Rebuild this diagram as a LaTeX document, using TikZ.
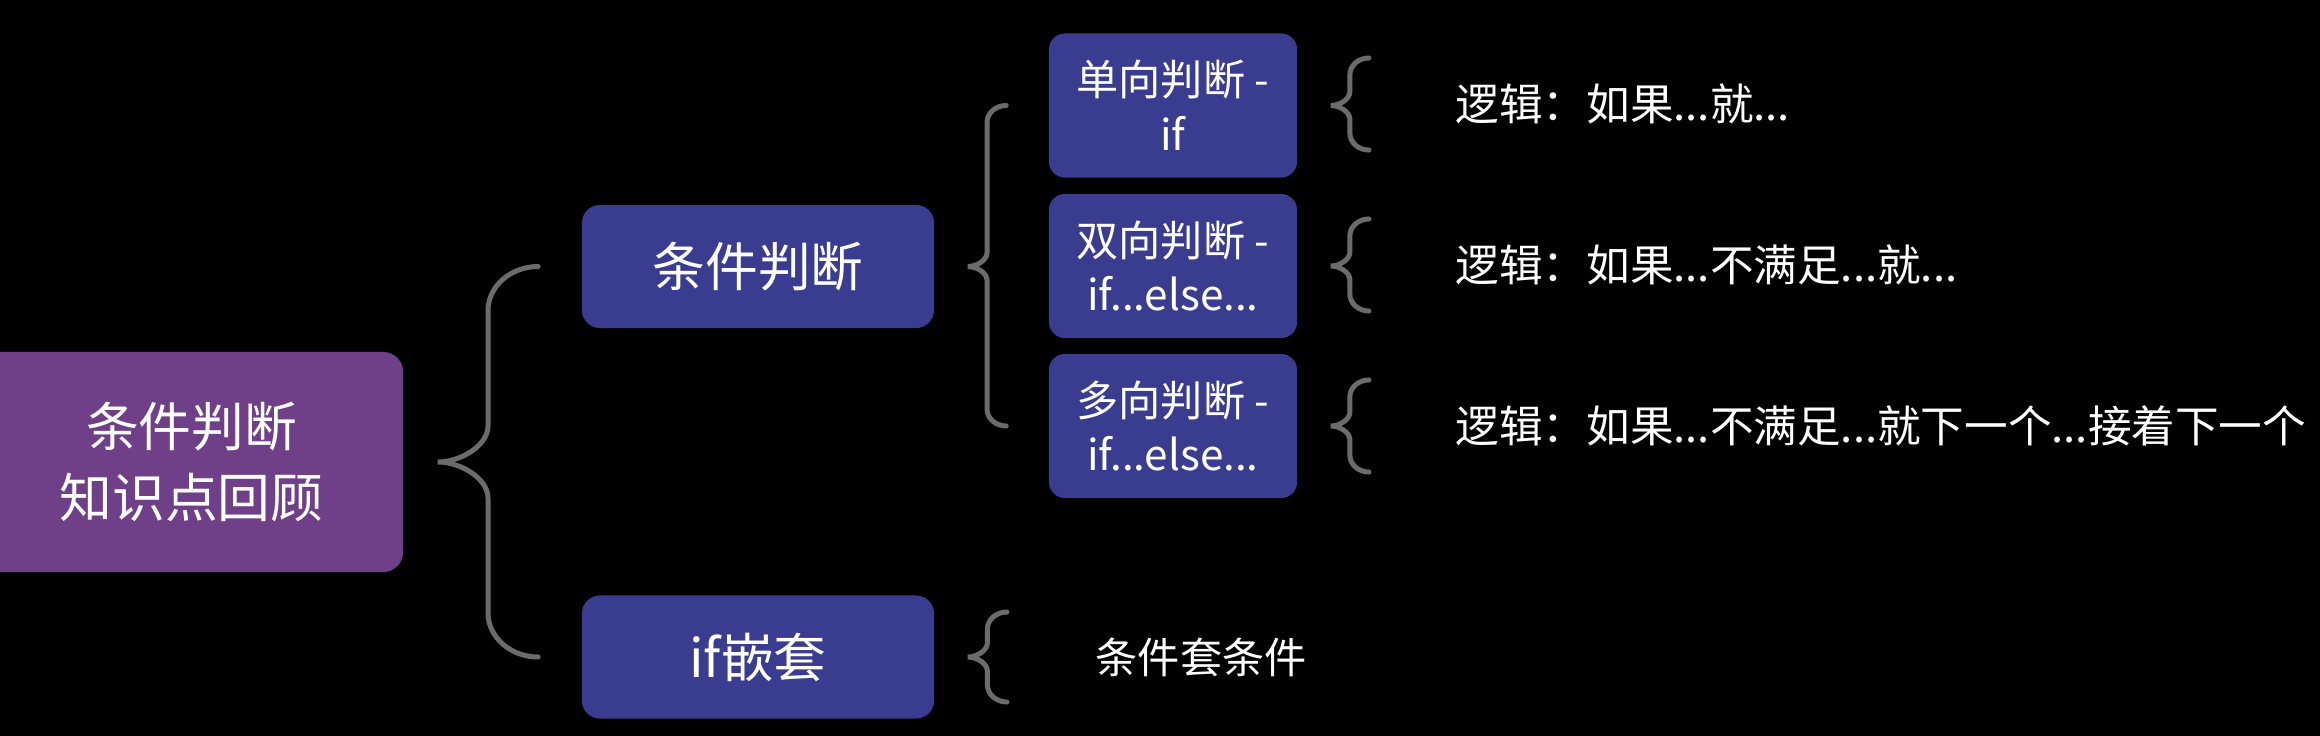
\documentclass[tikz,border=0pt]{standalone}
\usepackage{fontspec}
\setmainfont{Noto Sans CJK SC}
\usetikzlibrary{calc}

\definecolor{rootpurple}{HTML}{6F4088}
\definecolor{boxblue}{HTML}{3A3D8F}
\definecolor{curlgray}{HTML}{6B6B6B}

% curly brace: tip, top end, bottom end
\newcommand{\curly}[3]{%
  \draw[curl] let \p1=(#1), \p2=(#2), \p3=(#3),
    \n1={(\x1+\x2)/2}, \n2={0.44*(\x2-\x1)}, \n3={0.36*(\x2-\x1)},
    \n4={(\x2-\x1)/2} in
    (\p2) .. controls (\x2-0.55*\n4,\y2) and (\n1,\y2-0.45*\n2) .. (\n1,\y2-\n2)
    -- (\n1,\y1+\n3) .. controls (\n1,\y1+0.45*\n3) and (\x1+0.45*\n4,\y1) .. (\p1)
    .. controls (\x1+0.45*\n4,\y1) and (\n1,\y1-0.45*\n3) .. (\n1,\y1-\n3)
    -- (\n1,\y3+\n2) .. controls (\n1,\y3+0.45*\n2) and (\x3-0.55*\n4,\y3) .. (\p3);}

\begin{document}
\begin{tikzpicture}
[x=0.01cm,y=-0.01cm,
rootbox/.style={rectangle, fill=rootpurple, text=white, rounded corners=0.2cm,
minimum width=4.23cm, minimum height=2.2cm, align=center,
font=\fontsize{15}{20.2}\selectfont},
bigbox/.style={rectangle, fill=boxblue, text=white, rounded corners=0.18cm,
minimum width=3.52cm, minimum height=1.23cm, align=center,
font=\fontsize{15}{20}\selectfont},
smallbox/.style={rectangle, fill=boxblue, text=white, rounded corners=0.16cm,
minimum width=2.48cm, minimum height=1.44cm, align=center,
font=\fontsize{12}{15.6}\selectfont},
note/.style={anchor=west, text=white, inner sep=0pt,
font=\fontsize{12.4}{15}\selectfont},
curl/.style={draw=curlgray, line width=0.05cm, line cap=round}]
\fill[black] (0,0) rectangle (2320,736);
\useasboundingbox (0,0) rectangle (2320,736);

% boxes
\node [rootbox] (root) at (191.5,462) {条件判断\\知识点回顾};
\node [bigbox] (cond) at (758,266.5) {条件判断};
\node [bigbox] (nest) at (758,657) {if嵌套};
\node [smallbox] (one) at (1173,105.5) {单向判断 -\\if};
\node [smallbox] (two) at (1173,266) {双向判断 -\\if...else...};
\node [smallbox] (multi) at (1173,426) {多向判断 -\\if...else...};

% notes
\node [note] (l1) at (1455,104) {逻辑：如果...就...};
\node [note] (l2) at (1455,265) {逻辑：如果...不满足...就...};
\node [note] (l3) at (1455,426) {逻辑：如果...不满足...就下一个...接着下一个};
\node [note, font=\fontsize{12}{15}\selectfont] (nt) at (1095,657) {条件套条件};

% braces
\coordinate (rt) at ([xshift=0.34cm]root.east);
\coordinate (ra) at ([xshift=-0.43cm]cond.west);
\coordinate (rb) at ([xshift=-0.43cm]nest.west);
\curly{rt}{ra}{rb}
\coordinate (ct) at ([xshift=0.33cm]cond.east);
\coordinate (ca) at ([xshift=-0.42cm]one.west);
\coordinate (cb) at ([xshift=-0.42cm]multi.west);
\curly{ct}{ca}{cb}
\foreach \b/\l in {one/l1,two/l2,multi/l3}{
  \coordinate (\b t) at ([xshift=0.33cm]\b.east);
  \coordinate (\b a) at ([shift={(-0.86cm,0.46cm)}]\l.west);
  \coordinate (\b b) at ([shift={(-0.86cm,-0.46cm)}]\l.west);
  \curly{\b t}{\b a}{\b b}
}
\coordinate (nt t) at ([xshift=0.33cm]nest.east);
\coordinate (nt a) at ([shift={(-0.88cm,0.45cm)}]nt.west);
\coordinate (nt b) at ([shift={(-0.88cm,-0.45cm)}]nt.west);
\curly{nt t}{nt a}{nt b}
\end{tikzpicture}
\end{document}
